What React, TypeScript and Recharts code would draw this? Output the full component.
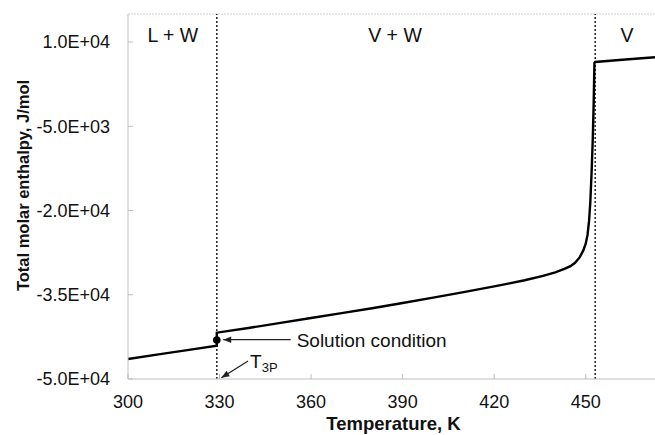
import { LineChart, Line, XAxis, YAxis, ReferenceLine, ReferenceDot, Label } from "recharts";

// temperature (K) and total molar enthalpy (J/mol)
const temperature = [
  300, 310, 320, 329.1, 329.1, 340, 350, 360, 370, 380, 390, 400, 410, 420, 425, 430, 436, 440, 443, 445,
  446.5, 448, 449.2, 450, 450.6, 451.1, 451.5, 451.9, 452.3, 452.6, 452.85, 453.1, 463, 472.7,
];
const enthalpy = [
  -46440, -45620, -44810, -44070, -41750, -40880, -40000, -39130, -38280, -37400, -36460, -35510, -34540,
  -33500, -32960, -32420, -31650, -31000, -30400, -29900, -29300, -28350, -27100, -25900, -24300, -21800,
  -18500, -13500, -7400, -1000, 6300, 6450, 6900, 7300,
];

const xTicks = [300, 330, 360, 390, 420, 450];
const yTicks = [-50000, -35000, -20000, -5000, 10000];
const phaseBoundaries = [329.1, 453.1];
const regionNames = ["L + W", "V + W", "V"];
const regionCenters = [314.7, 387.5, 463.5];
const solutionT = 329.1;
const solutionH = -43050;

const data = temperature.map((t, i) => ({ t, h: enthalpy[i] }));

const FONT = "'Liberation Sans', Arial, sans-serif";

const sci = (v: number) => {
  const [m, e] = v.toExponential(1).split("e");
  const n = Math.abs(parseInt(e, 10));
  return `${m}E${e[0] === "-" ? "-" : "+"}${n < 10 ? "0" + n : n}`;
};

const arrowHead = (x1: number, y1: number, x2: number, y2: number) => {
  const a = Math.atan2(y2 - y1, x2 - x1);
  const len = 8;
  const w = 3.2;
  const bx = x2 - len * Math.cos(a);
  const by = y2 - len * Math.sin(a);
  const px = -Math.sin(a) * w;
  const py = Math.cos(a) * w;
  return `${x2},${y2} ${bx + px},${by + py} ${bx - px},${by - py}`;
};

const SolutionArrow = (p: any) => (
  <g>
    <line x1={p.x1} y1={p.y1} x2={p.x2} y2={p.y2} stroke="#222" strokeWidth={1.3} />
    <polygon points={arrowHead(p.x1, p.y1, p.x2, p.y2)} fill="#222" />
    <text x={p.x1 + 6} y={p.y1 + 7} fontSize={19} fontFamily={FONT} fill="#111">
      Solution condition
    </text>
  </g>
);

const T3PArrow = (p: any) => (
  <g>
    <line x1={p.x1} y1={p.y1} x2={p.x2} y2={p.y2} stroke="#222" strokeWidth={1.3} />
    <polygon points={arrowHead(p.x1, p.y1, p.x2, p.y2)} fill="#222" />
    <text x={p.x1 + 2} y={p.y1 + 7} fontSize={19} fontFamily={FONT} fill="#111">
      T<tspan fontSize={13} dy={4}>3P</tspan>
    </text>
  </g>
);

const YTitle = (p: any) => {
  const vb = p.viewBox;
  return (
    <text
      transform={`translate(${vb.x + 23}, ${vb.y + vb.height / 2 - 11}) rotate(-90)`}
      textAnchor="middle"
      dominantBaseline="central"
      fontSize={16.5}
      fontWeight="bold"
      fontFamily={FONT}
      fill="#111"
    >
      Total molar enthalpy, J/mol
    </text>
  );
};

export default function App() {
  return (
    <div style={{ position: "absolute", left: 0, top: 0, background: "#fff" }}>
      <LineChart width={655} height={435} data={data} margin={{ top: 14, right: 0, left: 0, bottom: 0 }}>
        <XAxis
          type="number"
          dataKey="t"
          domain={[300, 472.7]}
          ticks={xTicks}
          allowDataOverflow
          height={56}
          stroke="#bdbdbd"
          tickSize={-5}
          tickMargin={21}
          tick={{ fill: "#111", fontSize: 18, fontFamily: FONT }}
        >
          <Label
            value="Temperature, K"
            position="insideBottom"
            offset={5}
            dx={2}
            style={{ fontWeight: "bold", fontSize: 18.5, fontFamily: FONT, fill: "#111" }}
          />
        </XAxis>
        <YAxis
          type="number"
          domain={[-50000, 15000]}
          ticks={yTicks}
          allowDataOverflow
          width={128}
          stroke="#bdbdbd"
          tickSize={-5}
          tickMargin={23}
          tickFormatter={sci}
          tick={{ fill: "#111", fontSize: 18, fontFamily: FONT }}
        >
          <Label content={YTitle} />
        </YAxis>
        <ReferenceLine y={15000} stroke="#cfcfcf" strokeDasharray="2 1" ifOverflow="visible" />
        {phaseBoundaries.map((b) => (
          <ReferenceLine key={b} x={b} stroke="#111" strokeWidth={1.4} strokeDasharray="2 2" />
        ))}
        {regionNames.map((name, i) => (
          <ReferenceDot
            key={name}
            x={regionCenters[i]}
            y={11300}
            r={0}
            stroke="none"
            label={{ value: name, position: "center", fontSize: 19.5, fontFamily: FONT, fill: "#111" }}
          />
        ))}
        <Line
          type="linear"
          dataKey="h"
          stroke="#000"
          strokeWidth={2.4}
          dot={false}
          isAnimationActive={false}
        />
        <ReferenceDot x={solutionT} y={solutionH} r={3.8} fill="#000" stroke="none" />
        <ReferenceLine
          segment={[{ x: 353.3, y: -43000 }, { x: 331.2, y: -43000 }]}
          shape={(p: any) => <SolutionArrow {...p} />}
        />
        <ReferenceLine
          segment={[{ x: 339.35, y: -46795 }, { x: 330.6, y: -49770 }]}
          shape={(p: any) => <T3PArrow {...p} />}
        />
      </LineChart>
    </div>
  );
}
